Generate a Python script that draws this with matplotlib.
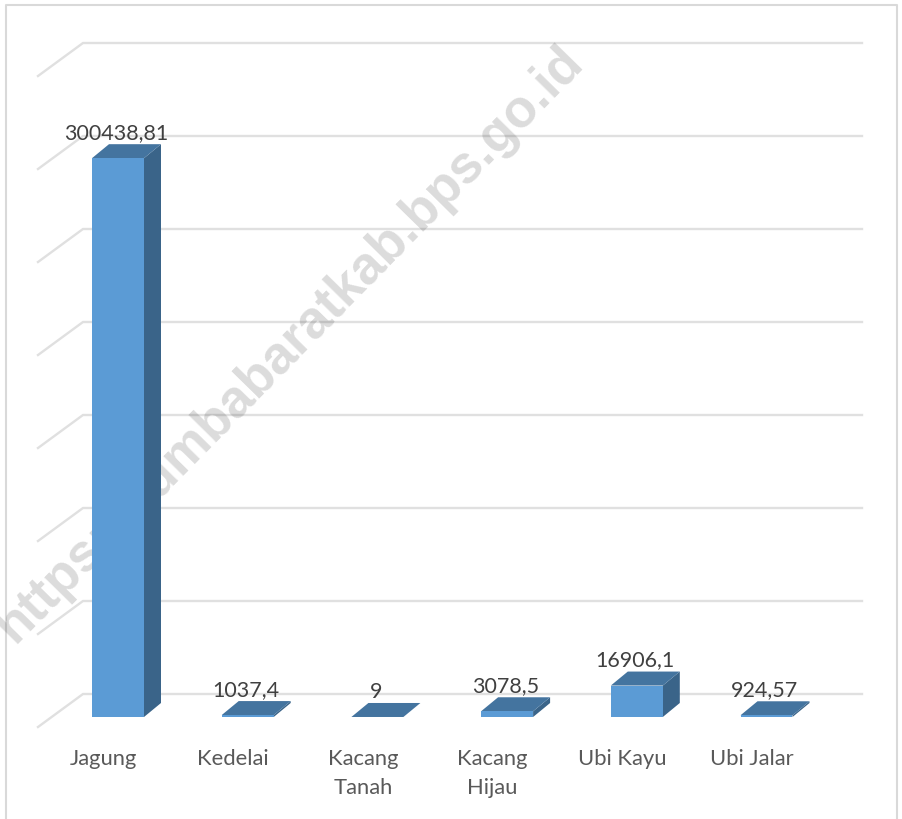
import matplotlib
matplotlib.use("Agg")
import matplotlib.pyplot as plt

categories = ["Jagung", "Kedelai", "Kacang\nTanah", "Kacang\nHijau", "Ubi Kayu", "Ubi Jalar"]
values = [300438.81, 1037.4, 9, 3078.5, 16906.1, 924.57]
value_labels = ["300438,81", "1037,4", "9", "3078,5", "16906,1", "924,57"]
grid_values = [0, 50000, 100000, 150000, 200000, 250000, 300000, 350000]

FRONT = "#5b9bd5"
TOP = "#44749f"
SIDE = "#3a6489"
GRID = "#e0e0e0"

plt.rcParams['font.family'] = ['Lato', 'DejaVu Sans']

W, H = 903, 820
fig = plt.figure(figsize=(W / 100, H / 100), dpi=100)
ax = fig.add_axes([0, 0, 1, 1])

# scales: one category is 129.7 px, 50000 units are 93 px, value 0 sits at y=718 px
px_x = 129.7
px_y = 93 / 50000
ax.set_xlim((0 - 118) / px_x, (W - 118) / px_x)
ax.set_ylim((718 - H) / px_y, 718 / px_y)
ax.axis("off")

dx = lambda p: p / px_x
dy = lambda p: p / px_y

# frame
ax.plot([6 / W, 6 / W, 897 / W, 897 / W], [0, 1 - 6 / H, 1 - 6 / H, 0], transform=ax.transAxes,
        color="#d9d9d9", lw=1.5, zorder=1)

# gridlines, back wall and floor diagonal
for g in grid_values:
    ax.plot([dx(38 - 118), dx(83 - 118), dx(862 - 118)],
            [g + dy(23 - 33), g + dy(23), g + dy(23)],
            color=GRID, lw=1.7, zorder=2, solid_joinstyle="miter")

ax.text(dx(290 - 118), dy(717 - 343), "https://sumbabaratkab.bps.go.id", rotation=45.5,
        rotation_mode="anchor", ha="center", va="center", fontsize=38, fontweight="bold",
        family="Liberation Sans", color="#000000", alpha=0.14, zorder=3)

# bars
bw = 52 / px_x
ddx = dx(17)
ddy = dy(14)
for i, (v, lab) in enumerate(zip(values, value_labels)):
    l = i - bw / 2
    r = i + bw / 2
    ax.fill([r, r + ddx, r + ddx, r], [0, ddy, v + ddy, v], color=SIDE, lw=0, zorder=4)
    ax.fill([l, r, r + ddx, l + ddx], [v, v, v + ddy, v + ddy], color=TOP, lw=0, zorder=4)
    ax.fill([l, r, r, l], [0, 0, v, v], color=FRONT, lw=0, zorder=5)
    ax.text(i - dx(1.5), v + dy(26), lab, ha="center", va="center", fontsize=15.5, color="#404040", zorder=6)

for i, c in enumerate(categories):
    ax.text(i - dx(14.5), dy(717 - 748), c, ha="center", va="top", fontsize=15.8, color="#595959",
            linespacing=1.55, zorder=6)

fig.savefig("out.png", dpi=100, facecolor="white")
